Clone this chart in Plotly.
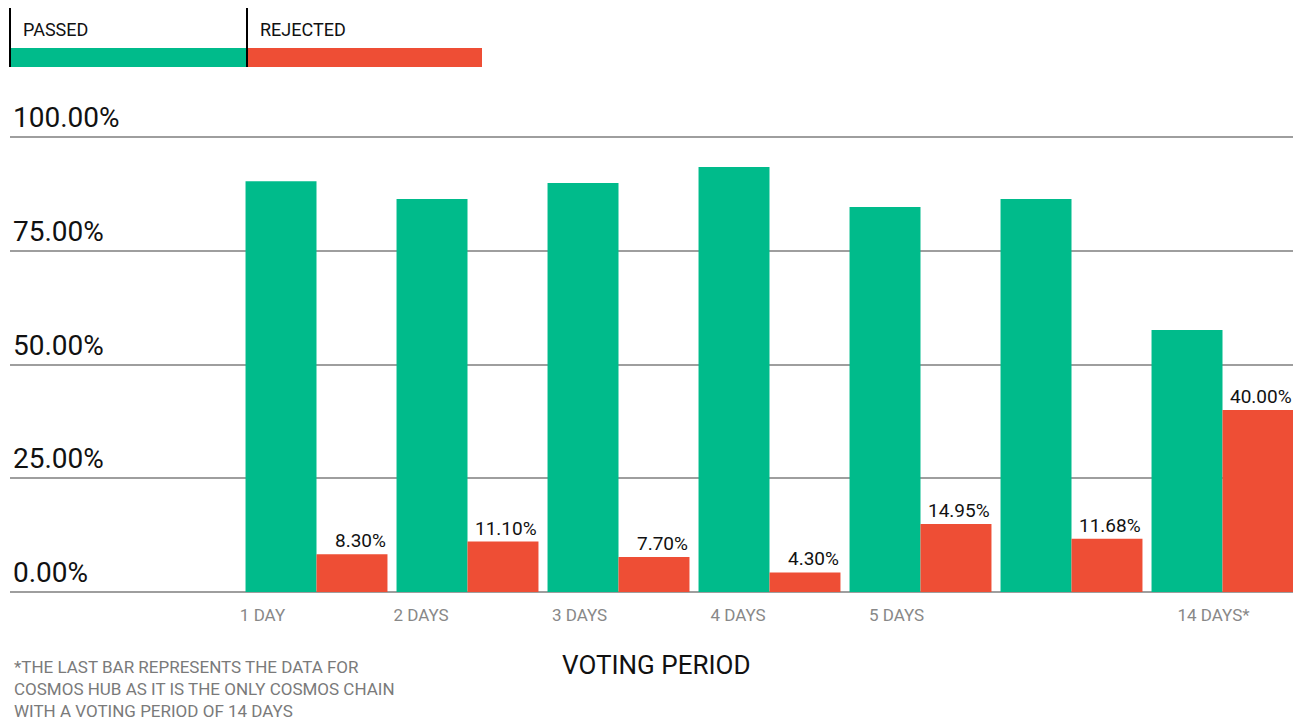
import plotly.graph_objects as go

# Share of governance proposals by voting period length
periods = ["1 DAY", "2 DAYS", "3 DAYS", "4 DAYS", "5 DAYS", "", "14 DAYS*"]
passed = [90.3, 86.4, 89.9, 93.4, 84.6, 86.4, 57.6]
rejected = [8.30, 11.10, 7.70, 4.30, 14.95, 11.68, 40.00]
rejected_labels = ["8.30%", "11.10%", "7.70%", "4.30%", "14.95%", "11.68%", "40.00%"]
y_ticks = [0, 25, 50, 75, 100]
y_tick_labels = ["0.00%", "25.00%", "50.00%", "75.00%", "100.00%"]

GREEN = "#00BB8B"
RED = "#EE4E35"
GRID = "#9E9E9E"
FONT = "Roboto"

# plot area geometry (px) and x scale (px per group)
PLOT_L, PLOT_W, PLOT_B, PLOT_H = 10, 1283, 592, 492
GROUP_PX = 151

x = list(range(len(periods)))
BARGAP = 0.06
BAR_W = (1 - BARGAP) / 2

fig = go.Figure()
fig.add_trace(go.Bar(x=x, y=passed, name="PASSED", marker_color=GREEN,
                     marker_line_width=0, hoverinfo="y"))
fig.add_trace(go.Bar(x=x, y=rejected, name="REJECTED", marker_color=RED,
                     marker_line_width=0, hoverinfo="y"))

# value labels, right-aligned to the rejected bars
annotations = []
for xi, v, lab in zip(x, rejected, rejected_labels):
    annotations.append(dict(
        x=xi + BAR_W / 2, y=v, xref="x", yref="y", text=lab, showarrow=False,
        xanchor="right", yanchor="bottom", yshift=0,
        xshift=BAR_W * GROUP_PX / 2 + 1,
        font=dict(family=FONT, size=19, color="#111111")))

# period labels sit on their own, slightly wider spacing
label_step = 158.5 / GROUP_PX
label_offset = -54 / GROUP_PX
tickvals = [label_offset + label_step * i for i in x]

annotations.append(dict(
    x=0.5035, y=-0.148, xref="paper", yref="paper", text="VOTING PERIOD",
    showarrow=False, xanchor="center", yanchor="middle",
    font=dict(family=FONT, size=26, color="#111111")))
annotations.append(dict(
    x=0.0, y=-0.128, xref="paper", yref="paper", xanchor="left", yanchor="top",
    align="left", showarrow=False, xshift=2,
    text=("*THE LAST BAR REPRESENTS THE DATA FOR<br>"
          "COSMOS HUB AS IT IS THE ONLY COSMOS CHAIN<br>"
          "WITH A VOTING PERIOD OF 14 DAYS"),
    font=dict(family=FONT, size=17, color="#7A7A7A")))


def px_x(p):
    return (p - PLOT_L) / PLOT_W


def px_y(p):
    return (PLOT_B - p) / PLOT_H


# legend drawn as swatches with titles
legend_items = [("PASSED", GREEN, 10, 247), ("REJECTED", RED, 247, 482)]
shapes = []
for name, col, x0, x1 in legend_items:
    shapes.append(dict(type="rect", xref="paper", yref="paper",
                       x0=px_x(x0), x1=px_x(x1), y0=px_y(67), y1=px_y(48),
                       fillcolor=col, line_width=0, layer="above"))
    shapes.append(dict(type="line", xref="paper", yref="paper",
                       x0=px_x(x0), x1=px_x(x0), y0=px_y(67), y1=px_y(8),
                       line=dict(color="#000000", width=2), layer="above"))
    annotations.append(dict(
        x=px_x(x0 + 11), y=px_y(30), xref="paper", yref="paper",
        text=name, showarrow=False, xanchor="left", yanchor="middle",
        font=dict(family=FONT, size=18, color="#111111")))

x0_data = -(316.5 - PLOT_L) / GROUP_PX
fig.update_layout(
    width=1297, height=722,
    margin=dict(l=PLOT_L, r=1297 - PLOT_L - PLOT_W,
                t=PLOT_B - PLOT_H, b=722 - PLOT_B),
    paper_bgcolor="white", plot_bgcolor="white",
    barmode="group", bargap=BARGAP, bargroupgap=0,
    showlegend=False,
    font=dict(family=FONT),
    annotations=annotations, shapes=shapes,
    xaxis=dict(range=[x0_data, x0_data + PLOT_W / GROUP_PX],
               tickvals=tickvals, ticktext=periods,
               tickfont=dict(family=FONT, size=17, color="#888888"),
               showgrid=False, zeroline=False, showline=False,
               ticks="outside", ticklen=8, tickcolor="rgba(0,0,0,0)"),
    yaxis=dict(range=[0, PLOT_H / 455 * 100], tickvals=y_ticks,
               ticktext=y_tick_labels,
               ticklabelposition="inside top", ticklabeloverflow="allow",
               tickfont=dict(family=FONT, size=28, color="#111111"),
               showgrid=True, gridcolor=GRID, gridwidth=2,
               zeroline=True, zerolinecolor=GRID, zerolinewidth=2,
               showline=False),
)

fig.write_html("out.html")
